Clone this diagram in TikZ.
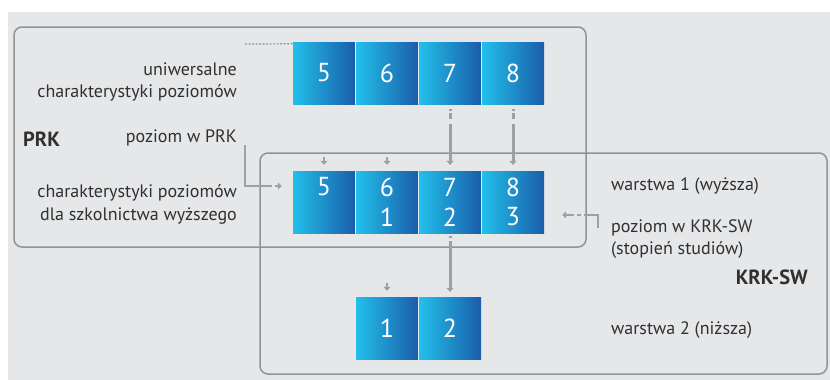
\documentclass[tikz,border=0pt]{standalone}
\usepackage{fontspec}
\setmainfont{PT Sans}
\usetikzlibrary{arrows.meta,calc}
\definecolor{bg}{HTML}{E6E7E9}
\definecolor{framec}{HTML}{929396}
\definecolor{arrc}{HTML}{9FA0A4}
\definecolor{txt}{HTML}{303030}
\definecolor{blueL}{HTML}{22C0EA}
\definecolor{blueM}{HTML}{2491CB}
\definecolor{blueR}{HTML}{1A5DAA}
\begin{document}
\begin{tikzpicture}[x=1pt,y=-1pt,
  framebox/.style={draw=framec,line width=1.5pt,rounded corners=8pt,inner sep=0pt},
  lvl/.style={minimum width=62pt,minimum height=62pt,inner sep=0pt,
    left color=blueL,middle color=blueM,right color=blueR,text=white,
    font=\fontsize{26}{28}\selectfont},
  num/.style={text=white,inner sep=0pt,font=\fontsize{26}{28}\selectfont},
  lbl/.style={text=txt,inner sep=0pt,font=\fontsize{18}{21}\selectfont},
  bold/.style={text=txt,inner sep=0pt,font=\fontsize{20.5}{24}\selectfont\bfseries},
  arr/.style={draw=arrc,line width=3pt,-{Triangle[length=4pt,width=7.5pt]}},
  sarr/.style={draw=arrc,line width=2.5pt,-{Triangle[length=4pt,width=7pt]}},
  dotline/.style={draw=framec,line width=1.2pt,dash pattern=on 2pt off 1.5pt}]
\useasboundingbox (0,0) rectangle (830,380);
\fill[bg] (8,12) rectangle (830,380);
% frames
\node[framebox,minimum width=572pt,minimum height=220pt] (prk) at (300,137) {};
\node[framebox,minimum width=567pt,minimum height=221pt] (krk) at (543.5,263.5) {};
% white gaps behind boxes
\fill[white] (293,42) rectangle (544,104);
\fill[white] (293,171) rectangle (544,233);
\fill[white] (356,297) rectangle (481,359);
% row 1
\node[lvl] (t5) at (324,73) {5};
\node[lvl] (t6) at (387,73) {6};
\node[lvl] (t7) at (450,73) {7};
\node[lvl] (t8) at (513,73) {8};
% row 2
\node[lvl] (m5) at (324,202) {};
\node[lvl] (m6) at (387,202) {};
\node[lvl] (m7) at (450,202) {};
\node[lvl] (m8) at (513,202) {};
\node[num] (m5a) at ([yshift=15pt]m5.center) {5};
\node[num] (m6a) at ([yshift=15pt]m6.center) {6};
\node[num] (m6b) at ([yshift=-15pt]m6.center) {1};
\node[num] (m7a) at ([yshift=15pt]m7.center) {7};
\node[num] (m7b) at ([yshift=-15pt]m7.center) {2};
\node[num] (m8a) at ([yshift=15pt]m8.center) {8};
\node[num] (m8b) at ([yshift=-15pt]m8.center) {3};
% row 3
\node[lvl] (b1) at (387,328) {1};
\node[lvl] (b2) at (450,328) {2};
% dotted line
\coordinate (dl) at (245,44);
\draw[dotline] (dl) -- ([yshift=-2pt]t5.north west);
% long arrows
\draw[arr,dash pattern=on 2pt off 2pt on 6pt off 5pt on 100pt,shorten <=5pt,shorten >=6pt] (t7.south) -- (m7.north);
\draw[arr,dash pattern=on 2pt off 2pt on 6pt off 5pt on 100pt,shorten <=5pt,shorten >=6pt] (t8.south) -- (m8.north);
\draw[arr,dash pattern=on 2pt off 3pt on 100pt,shorten <=3pt,shorten >=5pt] (m7.south) -- (b2.north);
% small arrows
\draw[sarr] ([yshift=14pt]m5.north) -- ([yshift=6pt]m5.north);
\draw[sarr] ([yshift=14pt]m6.north) -- ([yshift=6pt]m6.north);
\draw[sarr] ([yshift=14pt]b1.north) -- ([yshift=6pt]b1.north);
% bracket arrows
\coordinate (la) at (245,145);
\draw[sarr,dash pattern=on 68pt off 3pt on 4pt off 3pt,shorten >=11pt] (la) |- ([yshift=16pt]m5.west);
\coordinate (ra) at (598,228);
\draw[sarr,dash pattern=on 27pt off 3pt on 4pt off 3pt,shorten >=18pt] (ra) |- ([yshift=-13pt]m8.east);
% left texts
\node[lbl,anchor=base east] (u1) at (237,75) {uniwersalne};
\node[lbl,anchor=base east] (u2) at (237,97) {charakterystyki poziomów};
\node[lbl,anchor=base east] (lprk) at (237,142) {poziom w PRK};
\node[bold,anchor=base west] (prkt) at (23,146) {PRK};
\node[lbl,anchor=base east] (c1) at (237,197) {charakterystyki poziomów};
\node[lbl,anchor=base east] (c2) at (237,220.5) {dla szkolnictwa wyższego};
% right texts
\node[lbl,anchor=base west] (w1) at (611,190) {warstwa 1 (wyższa)};
\node[lbl,anchor=base west] (k1) at (611,232) {poziom w KRK-SW};
\node[lbl,anchor=base west] (k2) at (611,254) {(stopień studiów)};
\node[bold,anchor=base east] (krkt) at (808,284) {KRK-SW};
\node[lbl,anchor=base west] (w2) at (611,334) {warstwa 2 (niższa)};
\end{tikzpicture}
\end{document}
